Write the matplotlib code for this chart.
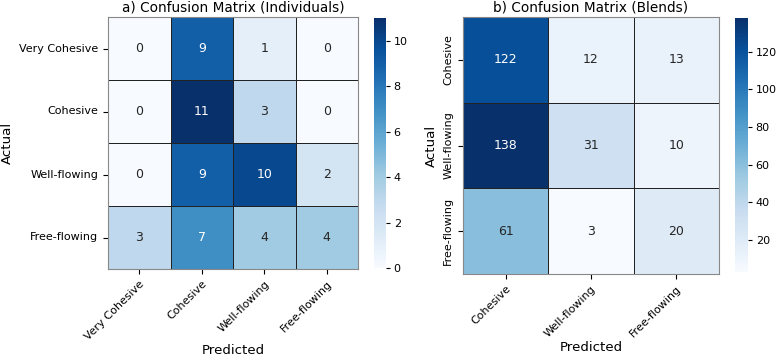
import matplotlib
matplotlib.use("Agg")
import matplotlib.pyplot as plt
import numpy as np
import seaborn as sns

# individuals: 4 classes
ind_labels = ['Very Cohesive', 'Cohesive', 'Well-flowing', 'Free-flowing']
ind_cm = np.array([
    [0, 9, 1, 0],
    [0, 11, 3, 0],
    [0, 9, 10, 2],
    [3, 7, 4, 4],
])

# blends: 3 classes
blend_labels = ['Cohesive', 'Well-flowing', 'Free-flowing']
blend_cm = np.array([
    [122, 12, 13],
    [138, 31, 10],
    [61, 3, 20],
])

fig = plt.figure(figsize=(7.79, 3.57), dpi=100)
W, H = 779, 357

def box(x0, y0, x1, y1):
    return [x0 / W, 1 - y1 / H, (x1 - x0) / W, (y1 - y0) / H]

ax1 = fig.add_axes(box(108, 17, 358, 269))
cax1 = fig.add_axes(box(374, 18, 386, 268))
ax2 = fig.add_axes(box(463, 17, 719, 274))
cax2 = fig.add_axes(box(735, 18, 748, 272))

sns.heatmap(ind_cm, annot=True, fmt='d', cmap='Blues', ax=ax1, cbar_ax=cax1,
            linewidths=0.5, linecolor='#222222',
            xticklabels=ind_labels, yticklabels=ind_labels,
            annot_kws={'fontsize': 9})
sns.heatmap(blend_cm, annot=True, fmt='d', cmap='Blues', ax=ax2, cbar_ax=cax2,
            linewidths=0.5, linecolor='#222222',
            xticklabels=blend_labels, yticklabels=blend_labels,
            annot_kws={'fontsize': 9})

for ax, title in [(ax1, 'a) Confusion Matrix (Individuals)'),
                  (ax2, 'b) Confusion Matrix (Blends)')]:
    ax.set_title(title, fontsize=9.8, pad=4)
    ax.set_xlabel('Predicted', fontsize=9.6, labelpad=1.5)
    ax.set_ylabel('Actual', fontsize=9.6)
    ax.tick_params(labelsize=8)
    plt.setp(ax.get_xticklabels(), rotation=45, ha='right', rotation_mode='anchor')
    for s in ax.spines.values():
        s.set_visible(True)
        s.set_color('#888888')
        s.set_linewidth(0.8)

plt.setp(ax1.get_yticklabels(), rotation=0)
plt.setp(ax2.get_yticklabels(), rotation=90, va='center')
for cax in (cax1, cax2):
    cax.tick_params(labelsize=8, length=3, pad=2.5)

fig.savefig('out.png', dpi=100)
